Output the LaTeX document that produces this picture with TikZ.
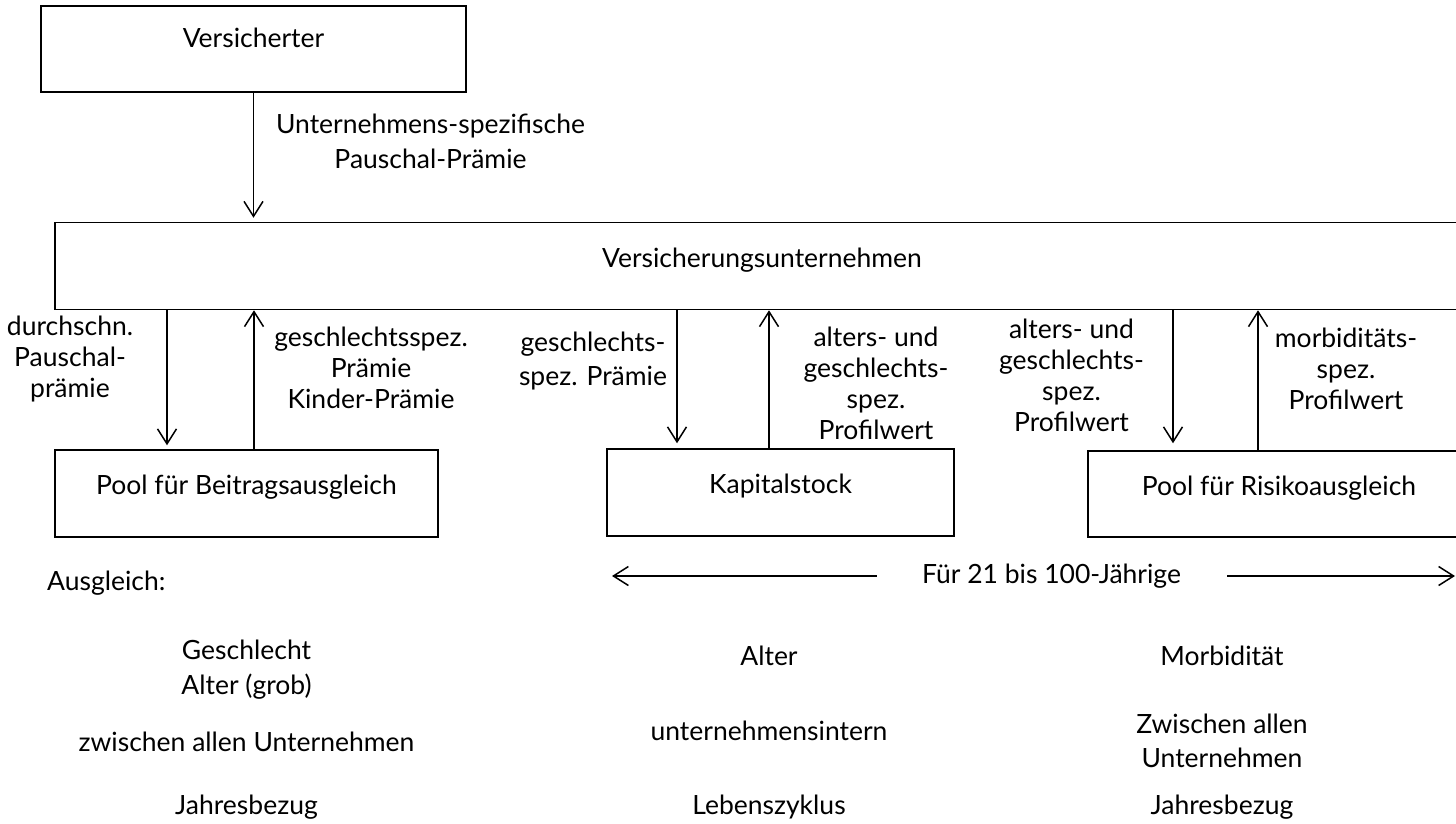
\documentclass[tikz,border=0pt]{standalone}
\usepackage{fontspec}
\setmainfont{Lato}
\usetikzlibrary{arrows.meta}
\begin{document}
\begin{tikzpicture}[x=1pt,y=-1pt,
  every node/.style={font=\fontsize{26.5pt}{31pt}\selectfont, inner sep=0pt},
  box/.style={draw, line width=1.5pt, text height=19.5pt, text depth=17.5pt},
  arr/.style={line width=1.5pt, -{Straight Barb[length=15pt,width=19pt,line width=1.5pt]}},
  lbl/.style={align=center},
  wide/.style={font=\fontsize{26.5pt}{34.5pt}\selectfont}]
\useasboundingbox (0,0) rectangle (1456,824);
\clip (0,0) rectangle (1456,824);
\fill[white] (0,0) rectangle (1456,824);

% boxes
\node[box, text height=19.5pt, text depth=21.5pt, minimum width=425pt, minimum height=86pt] (vers) at (253.5,49) {Versicherter};
\node[box, minimum width=1414pt, minimum height=87pt] (vu) at (762,266) {Versicherungsunternehmen};
\node[box, minimum width=383pt, minimum height=87pt] (pbei) at (246.5,493.5) {Pool für Beitragsausgleich};
\node[box, minimum width=347pt, minimum height=87pt] (kap) at (780.5,492.5) {Kapitalstock};
\node[box, minimum width=382pt, minimum height=86pt] (prisk) at (1279,494) {Pool für Risikoausgleich};

% arrow columns
\coordinate (c1) at (167,0);
\coordinate (c2) at (254,0);
\coordinate (c3) at (677,0);
\coordinate (c4) at (769,0);
\coordinate (c5) at (1173,0);
\coordinate (c6) at (1258,0);

\draw[arr, shorten >=4pt] (vers.south) -- (vers.south |- vu.north);
\draw[arr, shorten >=4pt] (vu.south -| c1) -- (pbei.north -| c1);
\draw[arr] (pbei.north -| c2) -- (vu.south -| c2);
\draw[arr, shorten >=5pt] (vu.south -| c3) -- (kap.north -| c3);
\draw[arr] (kap.north -| c4) -- (vu.south -| c4);
\draw[arr, shorten >=7pt] (vu.south -| c5) -- (prisk.north -| c5);
\draw[arr] (prisk.north -| c6) -- (vu.south -| c6);

% arrow labels
\node[lbl, wide] (l0) at (430.5,141.25) {Unternehmens-spezifische\\Pauschal-Prämie};
\node[lbl] (l1) at (70,359.5) {durchschn.\\Pauschal-\\prämie};
\node[lbl] (l2) at (371,368.25) {geschlechtsspez.\\Prämie\\Kinder-Prämie};
\node[lbl, wide] (l3) at (593,361) {geschlechts-\\spez. Prämie};
\node[lbl] (l4) at (876,383.75) {alters- und\\geschlechts-\\spez.\\Profilwert};
\node[lbl] (l5) at (1071.5,375.25) {alters- und\\geschlechts-\\spez.\\Profilwert};
\node[lbl] (l6) at (1346,368.75) {morbiditäts-\\spez.\\Profilwert};

% Ausgleich row
\node[anchor=base west] (ausg) at (47,590) {Ausgleich:};
\node[anchor=base] (age) at (1051.5,583) {Für 21 bis 100-Jährige};
\coordinate (lt) at (612,576);
\coordinate (rt) at (1455,576);
\draw[arr] ([xshift=-45pt]age.west |- lt) -- (lt);
\draw[arr] ([xshift=46pt]age.east |- rt) -- (rt);

% bottom columns
\node[lbl, wide] (b1) at (246.5,669.75) {Geschlecht\\Alter (grob)};
\node[anchor=base] (b2) at (246.5,751) {zwischen allen Unternehmen};
\node[anchor=base] (b3) at (246.5,814) {Jahresbezug};
\node[anchor=base] (m1) at (769,665) {Alter};
\node[anchor=base] (m2) at (769,740) {unternehmensintern};
\node[anchor=base] (m3) at (769,814) {Lebenszyklus};
\node[anchor=base] (r1) at (1222,665) {Morbidität};
\node[lbl, wide] (r2) at (1222,740.75) {Zwischen allen\\Unternehmen};
\node[anchor=base] (r3) at (1222,814) {Jahresbezug};
\end{tikzpicture}
\end{document}
